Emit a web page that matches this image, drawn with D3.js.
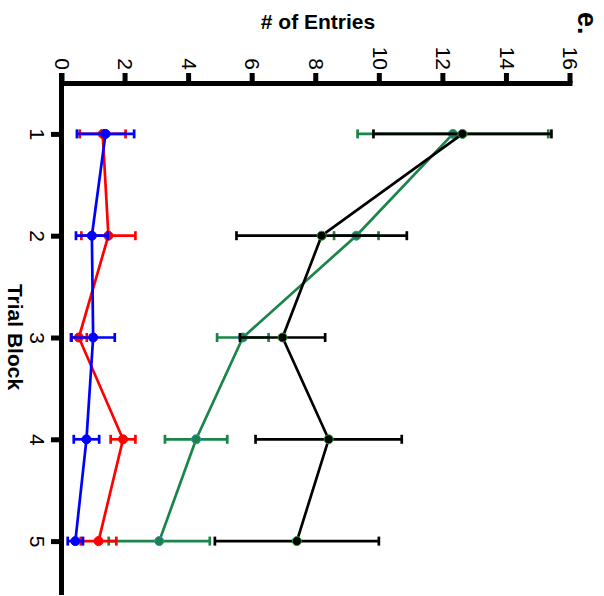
<!DOCTYPE html>
<html>
<head>
<meta charset="utf-8">
<script src="https://cdn.jsdelivr.net/npm/d3@7"></script>
<style>
  body { margin: 0; background: #fff; }
  svg { display: block; font-family: "Liberation Sans", Arial, Helvetica, sans-serif; }
</style>
</head>
<body>
<div id="chart"></div>
<script>
// trial blocks and value ticks
const blocks = [1, 2, 3, 4, 5];
const entryTicks = [0, 2, 4, 6, 8, 10, 12, 14, 16];

// mean # of entries per block, with error (SEM) per block
const greenMean = [12.3, 9.26, 5.69, 4.22, 3.06];
const greenErr  = [3.0, 0.7, 0.81, 0.98, 1.59];
const blackMean = [12.6, 8.17, 6.94, 8.39, 7.39];
const blackErr  = [2.8, 2.68, 1.34, 2.3, 2.58];
const redMean   = [1.28, 1.46, 0.53, 1.92, 1.15];
const redErr    = [0.72, 0.85, 0.25, 0.39, 0.56];
const blueMean  = [1.37, 0.94, 0.98, 0.77, 0.42];
const blueErr   = [0.9, 0.5, 0.68, 0.4, 0.24];

const W = 604, H = 596;

// the whole figure is drawn upright and then turned 90deg clockwise
// upright frame: width = H (596), height = W (604)
const svg = d3.select('#chart')
    .append('svg')
    .attr('width', W)
    .attr('height', H);

const g = svg.append('g')
    .attr('transform', `translate(${W},0) rotate(90)`);

const x = d3.scaleLinear().domain([0.5, 5.5]).range([83, 592]);
const y = d3.scaleLinear().domain([0, 16]).range([542, 33.5]);

// axes
const yAxis = g.append('g')
    .attr('transform', `translate(${x(0.5)},0)`)
    .call(d3.axisLeft(y).tickValues(entryTicks).tickFormat(d3.format('d'))
        .tickSize(10).tickSizeOuter(0).tickPadding(3));

const xAxis = g.append('g')
    .attr('transform', `translate(0,${y(0)})`)
    .call(d3.axisBottom(x).tickValues(blocks).tickFormat(d3.format('d'))
        .tickSize(11).tickSizeOuter(0).tickPadding(6));

[yAxis, xAxis].forEach(ax => {
    ax.select('.domain').attr('stroke', '#000').attr('stroke-width', 5).attr('stroke-linecap', 'square');
    ax.selectAll('.tick line').attr('stroke', '#000').attr('stroke-width', 5);
    ax.selectAll('.tick text').attr('fill', '#000').attr('font-size', 21);
});
// extend the block axis up to the 0 tick
g.append('line')
    .attr('x1', x(0.5)).attr('x2', x(0.5) - 10)
    .attr('y1', y(0)).attr('y2', y(0))
    .attr('stroke', '#000').attr('stroke-width', 5);

// axis titles
g.append('text')
    .attr('transform', `translate(29,286) rotate(-90)`)
    .attr('text-anchor', 'middle')
    .attr('font-size', 21)
    .attr('font-weight', 'bold')
    .text('# of Entries');

g.append('text')
    .attr('x', 337)
    .attr('y', 596.5)
    .attr('text-anchor', 'middle')
    .attr('font-size', 21)
    .attr('font-weight', 'bold')
    .text('Trial Block');

g.append('text')
    .attr('x', 12)
    .attr('y', 26)
    .attr('font-size', 27)
    .attr('font-weight', 'bold')
    .text('e.');

// series, drawn back to front
const series = [
    { mean: greenMean, err: greenErr, color: '#1a8449', dotStroke: '#3a86c8' },
    { mean: blackMean, err: blackErr, color: '#000000', dotStroke: '#1fa01f' },
    { mean: redMean,   err: redErr,   color: '#ff0000', dotStroke: '#ff0000' },
    { mean: blueMean,  err: blueErr,  color: '#0000ff', dotStroke: '#0000ff' }
];

const line = d3.line().x(d => x(d.block)).y(d => y(d.mean));
const capW = 4.5;

series.forEach(s => {
    const pts = blocks.map((b, i) => ({ block: b, mean: s.mean[i], err: s.err[i] }));
    const sg = g.append('g');

    sg.append('path')
        .datum(pts)
        .attr('d', line)
        .attr('fill', 'none')
        .attr('stroke', s.color)
        .attr('stroke-width', 2.7);

    const eb = sg.selectAll('.err')
        .data(pts)
        .enter()
        .append('g')
        .attr('class', 'err');

    eb.append('line')
        .attr('x1', d => x(d.block)).attr('x2', d => x(d.block))
        .attr('y1', d => y(d.mean - d.err)).attr('y2', d => y(d.mean + d.err))
        .attr('stroke', s.color).attr('stroke-width', 2.7);

    [-1, 1].forEach(sign => {
        eb.append('line')
            .attr('x1', d => x(d.block) - capW).attr('x2', d => x(d.block) + capW)
            .attr('y1', d => y(d.mean + sign * d.err)).attr('y2', d => y(d.mean + sign * d.err))
            .attr('stroke', s.color).attr('stroke-width', 2.7);
    });

    sg.selectAll('circle')
        .data(pts)
        .enter()
        .append('circle')
        .attr('cx', d => x(d.block))
        .attr('cy', d => y(d.mean))
        .attr('r', 4.5)
        .attr('fill', s.color)
        .attr('stroke', s.dotStroke)
        .attr('stroke-width', 1);
});
</script>
</body>
</html>
